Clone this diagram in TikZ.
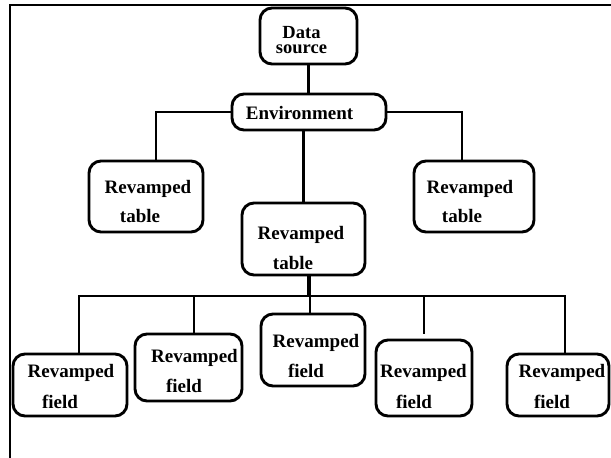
\documentclass[tikz,border=0pt]{standalone}
\usepackage{fontspec}
\setmainfont{Liberation Serif}
\usetikzlibrary{calc}
\begin{document}
\begin{tikzpicture}[x=1pt,y=-1pt,
  box/.style={draw, line width=2.9pt, rounded corners=12pt, inner sep=0pt},
  wire/.style={line width=2.7pt, line join=miter},
  lbl/.style={anchor=base, inner sep=0pt, font=\fontsize{19}{19}\selectfont\bfseries}]
\useasboundingbox (0,0) rectangle (611,458);

% outer frame (top and left edges)
\draw[line width=2pt] (9.7,458) -- (9.7,5) -- (611,5);

% boxes
\node[box, minimum width=97pt,  minimum height=56pt] (ds)  at (308.5,36)  {};
\node[box, minimum width=154pt, minimum height=36pt] (env) at (309,112)   {};
\node[box, minimum width=114pt, minimum height=71pt] (tl)  at (146,196.5) {};
\node[box, minimum width=123pt, minimum height=72pt] (tm)  at (303.5,239) {};
\node[box, minimum width=120pt, minimum height=71pt] (tr)  at (474,196.5) {};
\node[box, minimum width=114pt, minimum height=62pt] (f1)  at (70,385)    {};
\node[box, minimum width=107pt, minimum height=67pt] (f2)  at (188.5,367.5) {};
\node[box, minimum width=104pt, minimum height=72pt] (f3)  at (313,350)   {};
\node[box, minimum width=96pt,  minimum height=76pt] (f4)  at (424,378)   {};
\node[box, minimum width=102pt, minimum height=62pt] (f5)  at (558,385)   {};

% labels
\node[inner sep=0pt, anchor=north, align=center,
      font=\fontsize{18.5}{15}\selectfont\bfseries] (ds-a) at (301.5,26.5) {Data\\source};
\node[lbl] (env-a) at (299.5,119) {Environment};
\node[lbl] (tl-a)  at (148,193)   {Revamped};
\node[lbl] (tl-b)  at (140,222)   {table};
\node[lbl] (tr-a)  at (470,193)   {Revamped};
\node[lbl] (tr-b)  at (462,222)   {table};
\node[lbl] (tm-a)  at (301,239)   {Revamped};
\node[lbl] (tm-b)  at (293,269)   {table};
\node[lbl] (f1-a)  at (71,377)    {Revamped};
\node[lbl] (f1-b)  at (60,408)    {field};
\node[lbl] (f2-a)  at (194.5,362) {Revamped};
\node[lbl] (f2-b)  at (184,392)   {field};
\node[lbl] (f3-a)  at (316,347)   {Revamped};
\node[lbl] (f3-b)  at (306,377)   {field};
\node[lbl] (f4-a)  at (423.5,377) {Revamped};
\node[lbl] (f4-b)  at (414,408)   {field};
\node[lbl] (f5-a)  at (562,377)   {Revamped};
\node[lbl] (f5-b)  at (552,408)   {field};

% connectors
\coordinate (bus) at (0,296);
\draw[wire] (ds.south) -- (ds.south |- env.north);
\draw[wire] (env.west) -| ([xshift=10pt]tl.north);
\draw[wire] (env.east) -| ([xshift=-12pt]tr.north);
\draw[wire] (tm.north |- env.south) -- (tm.north);
\draw[wire, line width=3.5pt] ([xshift=5.5pt]tm.south) -- ([xshift=5.5pt]tm.south |- bus);
\draw[wire] ([xshift=9pt]f1.north) -- ([xshift=9pt]f1.north |- bus)
  -- ([xshift=7pt]f5.north |- bus) -- ([xshift=7pt]f5.north);
\draw[wire] ([xshift=5.5pt]f2.north) -- ([xshift=5.5pt]f2.north |- bus);
\draw[wire] ([xshift=-3pt]f3.north) -- ([xshift=-3pt]f3.north |- bus);
\draw[wire] ([yshift=5pt]f4.north) -- (f4.north |- bus);
\end{tikzpicture}
\end{document}
